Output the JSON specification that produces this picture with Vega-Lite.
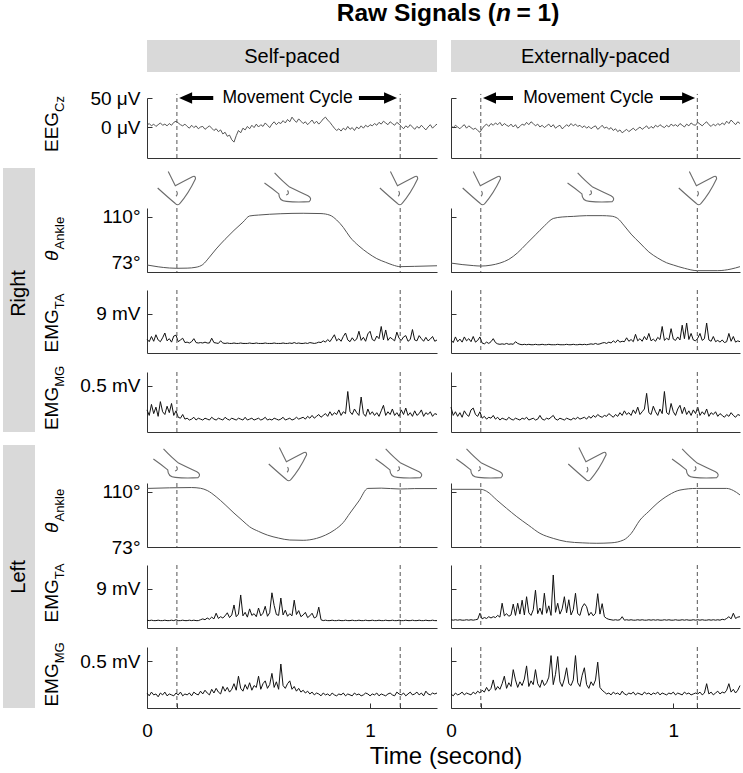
{
"$schema":"https://vega.github.io/schema/vega-lite/v6.json",
"padding":{"left":3,"top":0,"right":0,"bottom":0},
"background":"white",
"columns":4,
"align":"each",
"bounds":"flush",
"spacing":{"row":0,"column":14},
"resolve":{"scale":{"shape":"independent"}},
"config":{"font":"Liberation Sans","view":{"stroke":null},"axis":{"grid":false,"domainColor":"#333","tickColor":"#333","labelFontSize":19,"labelColor":"#000","labelFont":"Liberation Sans","domainWidth":1,"tickWidth":1},"text":{"color":"#000"}},
"datasets":{
"ev":[{"c":"S","t":0.134},{"c":"S","t":1.135},{"c":"E","t":0.134},{"c":"E","t":1.108}],
"arrows":[{"c":"S","dir":"L","tip":0.144,"neck":0.17,"tail":0.297},{"c":"S","dir":"R","tip":1.121,"neck":1.095,"tail":0.95},{"c":"E","dir":"L","tip":0.144,"neck":0.17,"tail":0.279},{"c":"E","dir":"R","tip":1.098,"neck":1.072,"tail":0.94}],
"mc":[{"c":"S","t":0.63,"label":"Movement Cycle"},{"c":"E","t":0.618,"label":"Movement Cycle"}],
"feet":[{"side":"R","c":"S","t":0.13,"pose":"D"},{"side":"R","c":"S","t":0.632,"pose":"P"},{"side":"R","c":"S","t":1.126,"pose":"D"},{"side":"R","c":"E","t":0.135,"pose":"D"},{"side":"R","c":"E","t":0.63,"pose":"P"},{"side":"R","c":"E","t":1.107,"pose":"D"},{"side":"L","c":"S","t":0.134,"pose":"P"},{"side":"L","c":"S","t":0.628,"pose":"D"},{"side":"L","c":"S","t":1.13,"pose":"P"},{"side":"L","c":"E","t":0.13,"pose":"P"},{"side":"L","c":"E","t":0.61,"pose":"D"},{"side":"L","c":"E","t":1.1,"pose":"P"}],
"ang":[
{"s":"RS","t":0,"v":77.7},{"s":"RS","t":0.05,"v":76.5},{"s":"RS","t":0.1,"v":75.7},{"s":"RS","t":0.134,"v":75.5},{"s":"RS","t":0.18,"v":75.6},{"s":"RS","t":0.22,"v":76.2},{"s":"RS","t":0.25,"v":78},{"s":"RS","t":0.28,"v":83},{"s":"RS","t":0.31,"v":88.5},{"s":"RS","t":0.35,"v":95},{"s":"RS","t":0.39,"v":101},{"s":"RS","t":0.43,"v":106.5},{"s":"RS","t":0.46,"v":110.7},{"s":"RS","t":0.5,"v":111.3},{"s":"RS","t":0.6,"v":112.2},{"s":"RS","t":0.7,"v":112.5},{"s":"RS","t":0.78,"v":112.3},{"s":"RS","t":0.82,"v":111.2},{"s":"RS","t":0.85,"v":108},{"s":"RS","t":0.88,"v":103},{"s":"RS","t":0.91,"v":96.5},{"s":"RS","t":0.95,"v":90.5},{"s":"RS","t":0.99,"v":85.8},{"s":"RS","t":1.03,"v":82},{"s":"RS","t":1.07,"v":79.5},{"s":"RS","t":1.1,"v":77.8},{"s":"RS","t":1.135,"v":76.6},{"s":"RS","t":1.2,"v":76.8},{"s":"RS","t":1.3,"v":77.2},
{"s":"RE","t":0,"v":79},{"s":"RE","t":0.05,"v":78},{"s":"RE","t":0.1,"v":77.3},{"s":"RE","t":0.134,"v":77},{"s":"RE","t":0.18,"v":77.6},{"s":"RE","t":0.22,"v":79},{"s":"RE","t":0.26,"v":81.5},{"s":"RE","t":0.3,"v":86},{"s":"RE","t":0.34,"v":92},{"s":"RE","t":0.38,"v":98},{"s":"RE","t":0.42,"v":104},{"s":"RE","t":0.46,"v":109},{"s":"RE","t":0.5,"v":110},{"s":"RE","t":0.55,"v":110.4},{"s":"RE","t":0.61,"v":110.9},{"s":"RE","t":0.68,"v":110.9},{"s":"RE","t":0.72,"v":110.6},{"s":"RE","t":0.75,"v":109},{"s":"RE","t":0.78,"v":104},{"s":"RE","t":0.81,"v":98.5},{"s":"RE","t":0.85,"v":92.5},{"s":"RE","t":0.89,"v":86.5},{"s":"RE","t":0.93,"v":82.4},{"s":"RE","t":0.97,"v":79.2},{"s":"RE","t":1.0,"v":77.7},{"s":"RE","t":1.05,"v":75.5},{"s":"RE","t":1.108,"v":73.9},{"s":"RE","t":1.2,"v":73.9},{"s":"RE","t":1.26,"v":75},{"s":"RE","t":1.3,"v":76.6},
{"s":"LS","t":0,"v":112.4},{"s":"LS","t":0.1,"v":112.8},{"s":"LS","t":0.2,"v":113},{"s":"LS","t":0.24,"v":112.5},{"s":"LS","t":0.27,"v":111},{"s":"LS","t":0.31,"v":106.8},{"s":"LS","t":0.35,"v":101.5},{"s":"LS","t":0.39,"v":95.8},{"s":"LS","t":0.43,"v":90.5},{"s":"LS","t":0.46,"v":86.6},{"s":"LS","t":0.5,"v":83.5},{"s":"LS","t":0.54,"v":81},{"s":"LS","t":0.59,"v":79},{"s":"LS","t":0.64,"v":77.7},{"s":"LS","t":0.7,"v":77.5},{"s":"LS","t":0.76,"v":78.8},{"s":"LS","t":0.8,"v":81},{"s":"LS","t":0.84,"v":84.4},{"s":"LS","t":0.88,"v":89.5},{"s":"LS","t":0.91,"v":95.8},{"s":"LS","t":0.95,"v":104},{"s":"LS","t":0.99,"v":112.4},{"s":"LS","t":1.05,"v":112.6},{"s":"LS","t":1.135,"v":112},{"s":"LS","t":1.2,"v":112.3},{"s":"LS","t":1.3,"v":112.3},
{"s":"LE","t":0,"v":111.8},{"s":"LE","t":0.134,"v":111.8},{"s":"LE","t":0.16,"v":110.5},{"s":"LE","t":0.206,"v":104.6},{"s":"LE","t":0.25,"v":99},{"s":"LE","t":0.296,"v":93.4},{"s":"LE","t":0.35,"v":87.5},{"s":"LE","t":0.4,"v":82.2},{"s":"LE","t":0.46,"v":78.8},{"s":"LE","t":0.52,"v":76.6},{"s":"LE","t":0.59,"v":75.8},{"s":"LE","t":0.656,"v":75.5},{"s":"LE","t":0.72,"v":75.8},{"s":"LE","t":0.776,"v":77.7},{"s":"LE","t":0.81,"v":82},{"s":"LE","t":0.85,"v":91.1},{"s":"LE","t":0.89,"v":97},{"s":"LE","t":0.927,"v":102.3},{"s":"LE","t":0.98,"v":108},{"s":"LE","t":1.03,"v":111.3},{"s":"LE","t":1.104,"v":112.4},{"s":"LE","t":1.24,"v":112.4},{"s":"LE","t":1.27,"v":111},{"s":"LE","t":1.3,"v":108}
],
"sig":[
{"t":0,"eegS":3,"eegE":2,"taRS":3.2,"mgRS":0.24,"taRE":3.0,"mgRE":0.27,"taLS":1.8,"mgLS":0.16,"taLE":1.9,"mgLE":0.15},
{"t":0.01,"eegS":6,"eegE":-1,"taRS":2.6,"mgRS":0.18,"taRE":2.4,"mgRE":0.18,"taLS":1.7,"mgLS":0.13,"taLE":1.8,"mgLE":0.13},
{"t":0.02,"eegS":2,"eegE":3,"taRS":3.8,"mgRS":0.30,"taRE":3.7,"mgRE":0.22,"taLS":1.8,"mgLS":0.17,"taLE":1.9,"mgLE":0.16},
{"t":0.03,"eegS":5,"eegE":0,"taRS":2.7,"mgRS":0.20,"taRE":2.6,"mgRE":0.17,"taLS":1.7,"mgLS":0.14,"taLE":1.8,"mgLE":0.14},
{"t":0.04,"eegS":1,"eegE":-3,"taRS":4.2,"mgRS":0.27,"taRE":3.2,"mgRE":0.21,"taLS":1.7,"mgLS":0.15,"taLE":1.9,"mgLE":0.15},
{"t":0.05,"eegS":4,"eegE":1,"taRS":3.0,"mgRS":0.17,"taRE":2.5,"mgRE":0.16,"taLS":1.8,"mgLS":0.12,"taLE":1.8,"mgLE":0.17},
{"t":0.06,"eegS":7,"eegE":4,"taRS":2.6,"mgRS":0.33,"taRE":3.7,"mgRE":0.23,"taLS":1.7,"mgLS":0.16,"taLE":1.8,"mgLE":0.14},
{"t":0.07,"eegS":3,"eegE":-2,"taRS":3.5,"mgRS":0.22,"taRE":2.8,"mgRE":0.19,"taLS":1.7,"mgLS":0.14,"taLE":1.9,"mgLE":0.16},
{"t":0.08,"eegS":5,"eegE":2,"taRS":4.6,"mgRS":0.19,"taRE":3.3,"mgRE":0.17,"taLS":1.8,"mgLS":0.17,"taLE":1.8,"mgLE":0.15},
{"t":0.09,"eegS":2,"eegE":-1,"taRS":2.8,"mgRS":0.28,"taRE":2.6,"mgRE":0.24,"taLS":1.7,"mgLS":0.13,"taLE":1.9,"mgLE":0.14},
{"t":0.1,"eegS":6,"eegE":-4,"taRS":3.3,"mgRS":0.21,"taRE":3.8,"mgRE":0.26,"taLS":1.7,"mgLS":0.15,"taLE":1.8,"mgLE":0.17},
{"t":0.11,"eegS":3,"eegE":-2,"taRS":2.5,"mgRS":0.31,"taRE":2.5,"mgRE":0.19,"taLS":1.8,"mgLS":0.14,"taLE":1.9,"mgLE":0.15},
{"t":0.12,"eegS":8,"eegE":-6,"taRS":3.9,"mgRS":0.18,"taRE":2.9,"mgRE":0.17,"taLS":1.7,"mgLS":0.13,"taLE":2.0,"mgLE":0.18},
{"t":0.13,"eegS":10,"eegE":-9,"taRS":4.1,"mgRS":0.23,"taRE":3.7,"mgRE":0.22,"taLS":1.9,"mgLS":0.16,"taLE":3.4,"mgLE":0.16},
{"t":0.14,"eegS":7,"eegE":-3,"taRS":2.6,"mgRS":0.16,"taRE":2.3,"mgRE":0.15,"taLS":1.7,"mgLS":0.14,"taLE":2.1,"mgLE":0.19},
{"t":0.15,"eegS":4,"eegE":2,"taRS":3.0,"mgRS":0.15,"taRE":2.1,"mgRE":0.17,"taLS":1.7,"mgLS":0.17,"taLE":2.4,"mgLE":0.17},
{"t":0.16,"eegS":2,"eegE":5,"taRS":3.4,"mgRS":0.19,"taRE":2.5,"mgRE":0.14,"taLS":1.8,"mgLS":0.13,"taLE":2.2,"mgLE":0.22},
{"t":0.17,"eegS":5,"eegE":1,"taRS":2.4,"mgRS":0.14,"taRE":2.2,"mgRE":0.16,"taLS":1.7,"mgLS":0.15,"taLE":2.6,"mgLE":0.18},
{"t":0.18,"eegS":1,"eegE":6,"taRS":2.5,"mgRS":0.15,"taRE":2.6,"mgRE":0.15,"taLS":1.7,"mgLS":0.14,"taLE":2.3,"mgLE":0.21},
{"t":0.19,"eegS":-2,"eegE":3,"taRS":2.3,"mgRS":0.13,"taRE":3.3,"mgRE":0.18,"taLS":1.8,"mgLS":0.16,"taLE":2.6,"mgLE":0.30},
{"t":0.2,"eegS":3,"eegE":7,"taRS":2.6,"mgRS":0.14,"taRE":2.4,"mgRE":0.14,"taLS":1.7,"mgLS":0.13,"taLE":2.4,"mgLE":0.19},
{"t":0.21,"eegS":-1,"eegE":4,"taRS":3.3,"mgRS":0.16,"taRE":2.1,"mgRE":0.16,"taLS":1.8,"mgLS":0.17,"taLE":2.9,"mgLE":0.23},
{"t":0.22,"eegS":2,"eegE":8,"taRS":2.4,"mgRS":0.13,"taRE":2.0,"mgRE":0.13,"taLS":1.7,"mgLS":0.15,"taLE":2.5,"mgLE":0.20},
{"t":0.23,"eegS":-3,"eegE":2,"taRS":2.3,"mgRS":0.15,"taRE":2.1,"mgRE":0.15,"taLS":1.7,"mgLS":0.14,"taLE":5.7,"mgLE":0.26},
{"t":0.24,"eegS":0,"eegE":6,"taRS":2.4,"mgRS":0.14,"taRE":2.0,"mgRE":0.14,"taLS":1.9,"mgLS":0.18,"taLE":2.8,"mgLE":0.34},
{"t":0.25,"eegS":1,"eegE":3,"taRS":2.3,"mgRS":0.13,"taRE":2.2,"mgRE":0.13,"taLS":2.1,"mgLS":0.15,"taLE":3.3,"mgLE":0.21},
{"t":0.26,"eegS":-4,"eegE":1,"taRS":2.5,"mgRS":0.15,"taRE":2.0,"mgRE":0.16,"taLS":1.9,"mgLS":0.19,"taLE":2.7,"mgLE":0.27},
{"t":0.27,"eegS":-1,"eegE":5,"taRS":2.3,"mgRS":0.14,"taRE":2.1,"mgRE":0.14,"taLS":2.3,"mgLS":0.16,"taLE":3.0,"mgLE":0.23},
{"t":0.28,"eegS":2,"eegE":0,"taRS":2.3,"mgRS":0.13,"taRE":2.0,"mgRE":0.13,"taLS":2.0,"mgLS":0.14,"taLE":5.5,"mgLE":0.41},
{"t":0.29,"eegS":-2,"eegE":4,"taRS":3.4,"mgRS":0.16,"taRE":2.6,"mgRE":0.15,"taLS":2.5,"mgLS":0.20,"taLE":2.9,"mgLE":0.30},
{"t":0.3,"eegS":-6,"eegE":-2,"taRS":2.4,"mgRS":0.14,"taRE":2.2,"mgRE":0.14,"taLS":2.1,"mgLS":0.16,"taLE":5.7,"mgLE":0.22},
{"t":0.31,"eegS":-3,"eegE":1,"taRS":2.3,"mgRS":0.13,"taRE":2.0,"mgRE":0.13,"taLS":3.4,"mgLS":0.21,"taLE":3.2,"mgLE":0.28},
{"t":0.32,"eegS":-8,"eegE":5,"taRS":2.2,"mgRS":0.15,"taRE":1.9,"mgRE":0.15,"taLS":2.2,"mgLS":0.17,"taLE":6.4,"mgLE":0.24},
{"t":0.33,"eegS":-5,"eegE":3,"taRS":2.8,"mgRS":0.14,"taRE":2.0,"mgRE":0.14,"taLS":2.6,"mgLS":0.15,"taLE":3.0,"mgLE":0.31},
{"t":0.34,"eegS":-12,"eegE":8,"taRS":2.3,"mgRS":0.13,"taRE":1.9,"mgRE":0.16,"taLS":2.3,"mgLS":0.23,"taLE":7.2,"mgLE":0.45},
{"t":0.35,"eegS":-9,"eegE":4,"taRS":2.2,"mgRS":0.16,"taRE":2.0,"mgRE":0.13,"taLS":2.8,"mgLS":0.18,"taLE":3.5,"mgLE":0.23},
{"t":0.36,"eegS":-16,"eegE":9,"taRS":2.3,"mgRS":0.14,"taRE":1.9,"mgRE":0.14,"taLS":3.5,"mgLS":0.22,"taLE":2.9,"mgLE":0.29},
{"t":0.37,"eegS":-14,"eegE":6,"taRS":2.2,"mgRS":0.13,"taRE":1.9,"mgRE":0.15,"taLS":2.4,"mgLS":0.17,"taLE":4.2,"mgLE":0.25},
{"t":0.38,"eegS":-22,"eegE":2,"taRS":2.2,"mgRS":0.15,"taRE":2.0,"mgRE":0.13,"taLS":3.0,"mgLS":0.20,"taLE":8.7,"mgLE":0.41},
{"t":0.39,"eegS":-26,"eegE":5,"taRS":2.3,"mgRS":0.14,"taRE":1.9,"mgRE":0.14,"taLS":5.3,"mgLS":0.26,"taLE":3.3,"mgLE":0.26},
{"t":0.4,"eegS":-15,"eegE":0,"taRS":2.2,"mgRS":0.13,"taRE":1.9,"mgRE":0.18,"taLS":2.6,"mgLS":0.19,"taLE":4.6,"mgLE":0.22},
{"t":0.41,"eegS":-6,"eegE":3,"taRS":2.2,"mgRS":0.15,"taRE":2.0,"mgRE":0.14,"taLS":3.2,"mgLS":0.34,"taLE":3.1,"mgLE":0.30},
{"t":0.42,"eegS":-10,"eegE":-1,"taRS":2.3,"mgRS":0.14,"taRE":1.9,"mgRE":0.13,"taLS":7.6,"mgLS":0.21,"taLE":8.0,"mgLE":0.24},
{"t":0.43,"eegS":-2,"eegE":2,"taRS":2.2,"mgRS":0.13,"taRE":1.9,"mgRE":0.15,"taLS":2.8,"mgLS":0.18,"taLE":3.4,"mgLE":0.27},
{"t":0.44,"eegS":-5,"eegE":5,"taRS":2.2,"mgRS":0.16,"taRE":2.0,"mgRE":0.14,"taLS":3.6,"mgLS":0.25,"taLE":5.1,"mgLE":0.33},
{"t":0.45,"eegS":1,"eegE":0,"taRS":2.2,"mgRS":0.13,"taRE":1.9,"mgRE":0.16,"taLS":2.5,"mgLS":0.20,"taLE":2.9,"mgLE":0.56},
{"t":0.46,"eegS":-3,"eegE":4,"taRS":2.3,"mgRS":0.14,"taRE":1.9,"mgRE":0.18,"taLS":4.4,"mgLS":0.27,"taLE":12.2,"mgLE":0.25},
{"t":0.47,"eegS":3,"eegE":-2,"taRS":2.2,"mgRS":0.15,"taRE":1.9,"mgRE":0.14,"taLS":2.9,"mgLS":0.19,"taLE":3.6,"mgLE":0.36},
{"t":0.48,"eegS":-1,"eegE":1,"taRS":2.2,"mgRS":0.13,"taRE":2.0,"mgRE":0.13,"taLS":3.3,"mgLS":0.24,"taLE":5.7,"mgLE":0.55},
{"t":0.49,"eegS":5,"eegE":3,"taRS":2.3,"mgRS":0.14,"taRE":1.9,"mgRE":0.15,"taLS":2.6,"mgLS":0.22,"taLE":3.2,"mgLE":0.28},
{"t":0.5,"eegS":0,"eegE":-3,"taRS":2.2,"mgRS":0.15,"taRE":1.9,"mgRE":0.14,"taLS":4.6,"mgLS":0.34,"taLE":4.4,"mgLE":0.23},
{"t":0.51,"eegS":4,"eegE":0,"taRS":2.2,"mgRS":0.13,"taRE":1.9,"mgRE":0.13,"taLS":2.8,"mgLS":0.20,"taLE":7.2,"mgLE":0.31},
{"t":0.52,"eegS":1,"eegE":4,"taRS":2.2,"mgRS":0.14,"taRE":2.0,"mgRE":0.15,"taLS":3.4,"mgLS":0.26,"taLE":3.5,"mgLE":0.43},
{"t":0.53,"eegS":7,"eegE":1,"taRS":2.3,"mgRS":0.16,"taRE":1.9,"mgRE":0.14,"taLS":5.0,"mgLS":0.29,"taLE":6.5,"mgLE":0.26},
{"t":0.54,"eegS":3,"eegE":6,"taRS":2.2,"mgRS":0.13,"taRE":1.9,"mgRE":0.13,"taLS":2.7,"mgLS":0.21,"taLE":3.0,"mgLE":0.24},
{"t":0.55,"eegS":-1,"eegE":2,"taRS":2.2,"mgRS":0.14,"taRE":2.0,"mgRE":0.15,"taLS":3.5,"mgLS":0.25,"taLE":4.2,"mgLE":0.30},
{"t":0.56,"eegS":5,"eegE":5,"taRS":2.2,"mgRS":0.13,"taRE":1.9,"mgRE":0.14,"taLS":8.1,"mgLS":0.37,"taLE":8.0,"mgLE":0.56},
{"t":0.57,"eegS":9,"eegE":1,"taRS":2.3,"mgRS":0.15,"taRE":1.9,"mgRE":0.16,"taLS":5.2,"mgLS":0.22,"taLE":3.3,"mgLE":0.27},
{"t":0.58,"eegS":4,"eegE":3,"taRS":2.2,"mgRS":0.14,"taRE":2.0,"mgRE":0.14,"taLS":3.1,"mgLS":0.28,"taLE":2.9,"mgLE":0.23},
{"t":0.59,"eegS":8,"eegE":-1,"taRS":2.2,"mgRS":0.13,"taRE":1.9,"mgRE":0.15,"taLS":2.9,"mgLS":0.20,"taLE":4.8,"mgLE":0.35},
{"t":0.6,"eegS":6,"eegE":2,"taRS":2.2,"mgRS":0.14,"taRE":2.0,"mgRE":0.16,"taLS":6.9,"mgLS":0.47,"taLE":5.6,"mgLE":0.43},
{"t":0.61,"eegS":11,"eegE":-2,"taRS":2.3,"mgRS":0.16,"taRE":1.9,"mgRE":0.14,"taLS":3.0,"mgLS":0.24,"taLE":4.9,"mgLE":0.25},
{"t":0.62,"eegS":7,"eegE":1,"taRS":2.2,"mgRS":0.13,"taRE":2.0,"mgRE":0.17,"taLS":4.1,"mgLS":0.21,"taLE":2.9,"mgLE":0.21},
{"t":0.63,"eegS":13,"eegE":-3,"taRS":2.2,"mgRS":0.14,"taRE":2.1,"mgRE":0.15,"taLS":2.7,"mgLS":0.26,"taLE":3.6,"mgLE":0.28},
{"t":0.64,"eegS":9,"eegE":0,"taRS":2.3,"mgRS":0.15,"taRE":2.0,"mgRE":0.18,"taLS":3.3,"mgLS":0.29,"taLE":2.8,"mgLE":0.24},
{"t":0.65,"eegS":17,"eegE":2,"taRS":2.2,"mgRS":0.13,"taRE":2.2,"mgRE":0.16,"taLS":2.8,"mgLS":0.20,"taLE":3.4,"mgLE":0.30},
{"t":0.66,"eegS":12,"eegE":-4,"taRS":2.4,"mgRS":0.14,"taRE":2.0,"mgRE":0.19,"taLS":6.4,"mgLS":0.23,"taLE":7.9,"mgLE":0.49},
{"t":0.67,"eegS":8,"eegE":-1,"taRS":2.2,"mgRS":0.16,"taRE":2.1,"mgRE":0.17,"taLS":3.1,"mgLS":0.18,"taLE":3.2,"mgLE":0.22},
{"t":0.68,"eegS":14,"eegE":3,"taRS":2.3,"mgRS":0.14,"taRE":2.3,"mgRE":0.16,"taLS":4.0,"mgLS":0.21,"taLE":5.6,"mgLE":0.19},
{"t":0.69,"eegS":10,"eegE":-2,"taRS":2.2,"mgRS":0.15,"taRE":2.4,"mgRE":0.18,"taLS":2.6,"mgLS":0.17,"taLE":2.6,"mgLE":0.17},
{"t":0.7,"eegS":6,"eegE":0,"taRS":2.2,"mgRS":0.16,"taRE":2.2,"mgRE":0.17,"taLS":3.0,"mgLS":0.19,"taLE":2.2,"mgLE":0.15},
{"t":0.71,"eegS":9,"eegE":-4,"taRS":2.3,"mgRS":0.14,"taRE":2.5,"mgRE":0.20,"taLS":3.6,"mgLS":0.16,"taLE":2.0,"mgLE":0.16},
{"t":0.72,"eegS":4,"eegE":-1,"taRS":2.2,"mgRS":0.17,"taRE":2.3,"mgRE":0.18,"taLS":2.4,"mgLS":0.18,"taLE":1.9,"mgLE":0.14},
{"t":0.73,"eegS":8,"eegE":-6,"taRS":2.4,"mgRS":0.15,"taRE":2.8,"mgRE":0.16,"taLS":2.8,"mgLS":0.15,"taLE":1.8,"mgLE":0.17},
{"t":0.74,"eegS":12,"eegE":-3,"taRS":2.3,"mgRS":0.18,"taRE":2.4,"mgRE":0.19,"taLS":3.4,"mgLS":0.17,"taLE":1.9,"mgLE":0.15},
{"t":0.75,"eegS":6,"eegE":-8,"taRS":2.2,"mgRS":0.15,"taRE":3.0,"mgRE":0.17,"taLS":2.3,"mgLS":0.14,"taLE":1.8,"mgLE":0.16},
{"t":0.76,"eegS":10,"eegE":-5,"taRS":2.3,"mgRS":0.17,"taRE":2.5,"mgRE":0.21,"taLS":2.6,"mgLS":0.16,"taLE":1.9,"mgLE":0.14},
{"t":0.77,"eegS":5,"eegE":-10,"taRS":2.5,"mgRS":0.19,"taRE":2.7,"mgRE":0.18,"taLS":4.8,"mgLS":0.15,"taLE":2.6,"mgLE":0.18},
{"t":0.78,"eegS":9,"eegE":-7,"taRS":2.4,"mgRS":0.16,"taRE":2.6,"mgRE":0.23,"taLS":1.9,"mgLS":0.13,"taLE":1.8,"mgLE":0.15},
{"t":0.79,"eegS":14,"eegE":-4,"taRS":2.8,"mgRS":0.18,"taRE":3.5,"mgRE":0.19,"taLS":1.7,"mgLS":0.16,"taLE":1.9,"mgLE":0.14},
{"t":0.8,"eegS":17,"eegE":-8,"taRS":2.5,"mgRS":0.20,"taRE":2.7,"mgRE":0.21,"taLS":1.8,"mgLS":0.14,"taLE":1.8,"mgLE":0.16},
{"t":0.81,"eegS":12,"eegE":-5,"taRS":3.1,"mgRS":0.17,"taRE":3.1,"mgRE":0.18,"taLS":1.7,"mgLS":0.15,"taLE":1.9,"mgLE":0.15},
{"t":0.82,"eegS":8,"eegE":-2,"taRS":2.6,"mgRS":0.22,"taRE":2.6,"mgRE":0.24,"taLS":1.7,"mgLS":0.13,"taLE":1.8,"mgLE":0.17},
{"t":0.83,"eegS":3,"eegE":-6,"taRS":3.4,"mgRS":0.18,"taRE":4.3,"mgRE":0.20,"taLS":1.8,"mgLS":0.16,"taLE":1.8,"mgLE":0.14},
{"t":0.84,"eegS":-2,"eegE":-3,"taRS":4.2,"mgRS":0.21,"taRE":2.8,"mgRE":0.27,"taLS":1.7,"mgLS":0.14,"taLE":1.9,"mgLE":0.16},
{"t":0.85,"eegS":-6,"eegE":0,"taRS":2.8,"mgRS":0.19,"taRE":3.3,"mgRE":0.19,"taLS":1.7,"mgLS":0.13,"taLE":1.8,"mgLE":0.15},
{"t":0.86,"eegS":-3,"eegE":-4,"taRS":3.3,"mgRS":0.24,"taRE":2.7,"mgRE":0.22,"taLS":1.8,"mgLS":0.15,"taLE":1.9,"mgLE":0.14},
{"t":0.87,"eegS":-7,"eegE":-1,"taRS":2.7,"mgRS":0.18,"taRE":3.8,"mgRE":0.25,"taLS":1.7,"mgLS":0.14,"taLE":1.8,"mgLE":0.17},
{"t":0.88,"eegS":-2,"eegE":2,"taRS":3.8,"mgRS":0.22,"taRE":3.0,"mgRE":0.42,"taLS":1.7,"mgLS":0.16,"taLE":1.8,"mgLE":0.15},
{"t":0.89,"eegS":-5,"eegE":-3,"taRS":4.6,"mgRS":0.20,"taRE":4.5,"mgRE":0.21,"taLS":1.8,"mgLS":0.13,"taLE":1.9,"mgLE":0.16},
{"t":0.9,"eegS":1,"eegE":1,"taRS":3.0,"mgRS":0.44,"taRE":2.8,"mgRE":0.19,"taLS":1.7,"mgLS":0.15,"taLE":1.8,"mgLE":0.14},
{"t":0.91,"eegS":-4,"eegE":-2,"taRS":2.6,"mgRS":0.22,"taRE":3.2,"mgRE":0.28,"taLS":1.7,"mgLS":0.14,"taLE":1.9,"mgLE":0.16},
{"t":0.92,"eegS":-1,"eegE":3,"taRS":3.5,"mgRS":0.19,"taRE":2.7,"mgRE":0.22,"taLS":1.8,"mgLS":0.13,"taLE":1.8,"mgLE":0.15},
{"t":0.93,"eegS":-6,"eegE":0,"taRS":2.8,"mgRS":0.25,"taRE":3.6,"mgRE":0.18,"taLS":1.7,"mgLS":0.16,"taLE":1.9,"mgLE":0.17},
{"t":0.94,"eegS":0,"eegE":4,"taRS":3.2,"mgRS":0.21,"taRE":3.1,"mgRE":0.25,"taLS":1.7,"mgLS":0.14,"taLE":1.8,"mgLE":0.14},
{"t":0.95,"eegS":-3,"eegE":1,"taRS":5.0,"mgRS":0.18,"taRE":6.1,"mgRE":0.20,"taLS":1.8,"mgLS":0.15,"taLE":1.8,"mgLE":0.16},
{"t":0.96,"eegS":2,"eegE":-1,"taRS":2.9,"mgRS":0.38,"taRE":2.9,"mgRE":0.44,"taLS":1.7,"mgLS":0.13,"taLE":1.9,"mgLE":0.15},
{"t":0.97,"eegS":-2,"eegE":3,"taRS":3.6,"mgRS":0.20,"taRE":3.4,"mgRE":0.21,"taLS":1.7,"mgLS":0.14,"taLE":1.8,"mgLE":0.14},
{"t":0.98,"eegS":3,"eegE":0,"taRS":2.7,"mgRS":0.17,"taRE":3.0,"mgRE":0.19,"taLS":1.8,"mgLS":0.16,"taLE":1.9,"mgLE":0.16},
{"t":0.99,"eegS":0,"eegE":5,"taRS":4.4,"mgRS":0.25,"taRE":5.6,"mgRE":0.31,"taLS":1.7,"mgLS":0.15,"taLE":1.8,"mgLE":0.15},
{"t":1.0,"eegS":4,"eegE":2,"taRS":5.0,"mgRS":0.19,"taRE":3.2,"mgRE":0.22,"taLS":1.7,"mgLS":0.13,"taLE":1.8,"mgLE":0.17},
{"t":1.01,"eegS":2,"eegE":4,"taRS":3.1,"mgRS":0.22,"taRE":2.9,"mgRE":0.18,"taLS":1.8,"mgLS":0.15,"taLE":1.9,"mgLE":0.14},
{"t":1.02,"eegS":6,"eegE":1,"taRS":2.8,"mgRS":0.18,"taRE":3.7,"mgRE":0.25,"taLS":1.7,"mgLS":0.14,"taLE":1.8,"mgLE":0.16},
{"t":1.03,"eegS":3,"eegE":6,"taRS":3.9,"mgRS":0.21,"taRE":3.0,"mgRE":0.29,"taLS":1.7,"mgLS":0.16,"taLE":1.8,"mgLE":0.15},
{"t":1.04,"eegS":8,"eegE":3,"taRS":3.3,"mgRS":0.17,"taRE":6.4,"mgRE":0.20,"taLS":1.8,"mgLS":0.13,"taLE":1.9,"mgLE":0.14},
{"t":1.05,"eegS":5,"eegE":0,"taRS":6.1,"mgRS":0.23,"taRE":3.3,"mgRE":0.27,"taLS":1.7,"mgLS":0.15,"taLE":1.8,"mgLE":0.17},
{"t":1.06,"eegS":10,"eegE":5,"taRS":3.0,"mgRS":0.29,"taRE":6.9,"mgRE":0.19,"taLS":1.7,"mgLS":0.14,"taLE":1.9,"mgLE":0.15},
{"t":1.07,"eegS":7,"eegE":2,"taRS":5.3,"mgRS":0.18,"taRE":3.1,"mgRE":0.23,"taLS":1.8,"mgLS":0.13,"taLE":1.8,"mgLE":0.16},
{"t":1.08,"eegS":4,"eegE":7,"taRS":2.9,"mgRS":0.22,"taRE":4.5,"mgRE":0.18,"taLS":1.7,"mgLS":0.15,"taLE":1.8,"mgLE":0.14},
{"t":1.09,"eegS":9,"eegE":4,"taRS":3.6,"mgRS":0.19,"taRE":3.0,"mgRE":0.24,"taLS":1.7,"mgLS":0.16,"taLE":1.9,"mgLE":0.15},
{"t":1.1,"eegS":6,"eegE":3,"taRS":3.2,"mgRS":0.25,"taRE":2.8,"mgRE":0.20,"taLS":1.8,"mgLS":0.14,"taLE":1.8,"mgLE":0.16},
{"t":1.11,"eegS":3,"eegE":8,"taRS":2.8,"mgRS":0.18,"taRE":3.4,"mgRE":0.27,"taLS":1.7,"mgLS":0.13,"taLE":1.9,"mgLE":0.15},
{"t":1.12,"eegS":8,"eegE":5,"taRS":4.8,"mgRS":0.21,"taRE":4.5,"mgRE":0.18,"taLS":1.7,"mgLS":0.17,"taLE":1.8,"mgLE":0.17},
{"t":1.13,"eegS":5,"eegE":2,"taRS":3.4,"mgRS":0.17,"taRE":2.9,"mgRE":0.22,"taLS":1.8,"mgLS":0.15,"taLE":1.9,"mgLE":0.14},
{"t":1.14,"eegS":1,"eegE":6,"taRS":2.9,"mgRS":0.24,"taRE":3.3,"mgRE":0.19,"taLS":1.7,"mgLS":0.14,"taLE":1.8,"mgLE":0.16},
{"t":1.15,"eegS":-3,"eegE":9,"taRS":3.7,"mgRS":0.19,"taRE":6.9,"mgRE":0.25,"taLS":1.7,"mgLS":0.16,"taLE":1.8,"mgLE":0.26},
{"t":1.16,"eegS":2,"eegE":4,"taRS":4.0,"mgRS":0.26,"taRE":3.0,"mgRE":0.17,"taLS":1.8,"mgLS":0.13,"taLE":1.9,"mgLE":0.15},
{"t":1.17,"eegS":-1,"eegE":1,"taRS":2.7,"mgRS":0.18,"taRE":2.7,"mgRE":0.21,"taLS":1.7,"mgLS":0.15,"taLE":1.8,"mgLE":0.17},
{"t":1.18,"eegS":4,"eegE":5,"taRS":3.1,"mgRS":0.21,"taRE":3.8,"mgRE":0.19,"taLS":1.7,"mgLS":0.17,"taLE":1.9,"mgLE":0.14},
{"t":1.19,"eegS":0,"eegE":2,"taRS":5.4,"mgRS":0.17,"taRE":2.6,"mgRE":0.22,"taLS":1.8,"mgLS":0.14,"taLE":1.8,"mgLE":0.16},
{"t":1.2,"eegS":-4,"eegE":6,"taRS":3.0,"mgRS":0.23,"taRE":2.9,"mgRE":0.17,"taLS":1.7,"mgLS":0.15,"taLE":1.9,"mgLE":0.18},
{"t":1.21,"eegS":1,"eegE":3,"taRS":2.8,"mgRS":0.18,"taRE":2.5,"mgRE":0.20,"taLS":1.7,"mgLS":0.17,"taLE":1.8,"mgLE":0.15},
{"t":1.22,"eegS":-2,"eegE":7,"taRS":4.0,"mgRS":0.20,"taRE":3.0,"mgRE":0.18,"taLS":1.8,"mgLS":0.14,"taLE":2.0,"mgLE":0.17},
{"t":1.23,"eegS":3,"eegE":4,"taRS":3.3,"mgRS":0.24,"taRE":2.4,"mgRE":0.16,"taLS":1.7,"mgLS":0.16,"taLE":1.9,"mgLE":0.16},
{"t":1.24,"eegS":-1,"eegE":10,"taRS":2.7,"mgRS":0.17,"taRE":2.6,"mgRE":0.19,"taLS":1.7,"mgLS":0.13,"taLE":2.2,"mgLE":0.19},
{"t":1.25,"eegS":-5,"eegE":6,"taRS":3.6,"mgRS":0.21,"taRE":4.5,"mgRE":0.17,"taLS":1.8,"mgLS":0.18,"taLE":2.6,"mgLE":0.26},
{"t":1.26,"eegS":0,"eegE":12,"taRS":2.8,"mgRS":0.19,"taRE":2.7,"mgRE":0.21,"taLS":1.7,"mgLS":0.15,"taLE":2.1,"mgLE":0.17},
{"t":1.27,"eegS":4,"eegE":8,"taRS":3.2,"mgRS":0.22,"taRE":3.8,"mgRE":0.18,"taLS":1.7,"mgLS":0.14,"taLE":3.4,"mgLE":0.20},
{"t":1.28,"eegS":-2,"eegE":4,"taRS":3.8,"mgRS":0.17,"taRE":2.5,"mgRE":0.16,"taLS":1.8,"mgLS":0.16,"taLE":2.2,"mgLE":0.16},
{"t":1.29,"eegS":2,"eegE":9,"taRS":2.7,"mgRS":0.20,"taRE":2.8,"mgRE":0.19,"taLS":1.7,"mgLS":0.15,"taLE":2.5,"mgLE":0.19},
{"t":1.3,"eegS":5,"eegE":6,"taRS":3.0,"mgRS":0.19,"taRE":2.6,"mgRE":0.18,"taLS":1.7,"mgLS":0.16,"taLE":2.6,"mgLE":0.24}
]
},
"concat":[
{"width":32,"height":40,"data":{"values":[]},"mark":"point"},
{"width":84,"height":1,"data":{"values":[]},"mark":"point"},
{"width":290,"height":1,"data":{"values":[]},"mark":"point"},
{"width":289,"height":40,"data":{"values":[{"a":"Raw Signals (","b":"n","c":"= 1)"}]},"layer":[
 {"mark":{"type":"text","align":"right","baseline":"middle","fontSize":24.5,"fontWeight":"bold","dx":-99.5,"dy":-6},"encoding":{"text":{"field":"a"}}},
 {"mark":{"type":"text","align":"center","baseline":"middle","fontSize":24.5,"fontWeight":"bold","fontStyle":"italic","dx":-92,"dy":-6},"encoding":{"text":{"field":"b"}}},
 {"mark":{"type":"text","align":"left","baseline":"middle","fontSize":24.5,"fontWeight":"bold","dx":-79,"dy":-6},"encoding":{"text":{"field":"c"}}}]},

{"width":32,"height":32,"data":{"values":[]},"mark":"point"},
{"width":1,"height":1,"data":{"values":[]},"mark":"point"},
{"width":290,"height":32,"view":{"fill":"#d9d9d9"},"data":{"values":[{"label":"Self-paced"}]},"mark":{"type":"text","fontSize":20,"baseline":"middle","dy":1},"encoding":{"text":{"field":"label"}}},
{"width":289,"height":32,"view":{"fill":"#d9d9d9"},"data":{"values":[{"label":"Externally-paced"}]},"mark":{"type":"text","fontSize":20,"baseline":"middle","dy":1},"encoding":{"text":{"field":"label"}}},

{"width":32,"height":26,"data":{"values":[]},"mark":"point"},
{"width":1,"height":1,"data":{"values":[]},"mark":"point"},
{"width":1,"height":1,"data":{"values":[]},"mark":"point"},
{"width":1,"height":1,"data":{"values":[]},"mark":"point"},

{"width":32,"height":60,"data":{"values":[]},"mark":"point"},
{"width":84,"height":60,"data":{"values":[{"m":"EEG","s":"Cz"}]},"layer":[
 {"mark":{"type":"text","angle":270,"align":"left","baseline":"middle","fontSize":19,"dx":-24,"dy":-39},"encoding":{"text":{"field":"m"}}},
 {"mark":{"type":"text","angle":270,"align":"left","baseline":"middle","fontSize":13,"dx":16,"dy":-31},"encoding":{"text":{"field":"s"}}}]},
{"width":290,"height":60,"layer":[
 {"data":{"name":"sig"},"mark":{"type":"line","color":"#444","strokeWidth":0.9},"encoding":{"x":{"field":"t","type":"quantitative","scale":{"domain":[0,1.3],"nice":false},"axis":{"labels":false,"ticks":false,"title":null}},"y":{"field":"eegS","type":"quantitative","scale":{"domain":[-53.4,50],"nice":false,"zero":false},"axis":{"values":[0,50],"labelExpr":"datum.value + ' μV'","title":null,"tickSize":-5,"labelPadding":12}}}},
 {"data":{"name":"ev"},"transform":[{"filter":"datum.c == 'S'"}],"mark":{"type":"rule","color":"#555","strokeDash":[4,3],"strokeWidth":1},"encoding":{"x":{"field":"t","type":"quantitative"},"y":{"datum":-53.4},"y2":{"datum":57}}},
 {"data":{"name":"arrows"},"transform":[{"filter":"datum.c == 'S'"}],"mark":{"type":"rule","color":"#000","strokeWidth":4},"encoding":{"x":{"field":"neck","type":"quantitative"},"x2":{"field":"tail"},"y":{"datum":50}}},
 {"data":{"name":"arrows"},"transform":[{"filter":"datum.c == 'S'"}],"mark":{"type":"point","filled":true,"color":"#000","opacity":1,"size":169,"strokeWidth":0},"encoding":{"x":{"field":"tip","type":"quantitative"},"y":{"datum":50},"shape":{"field":"dir","type":"nominal","scale":{"domain":["L","R"],"range":["M0,0 L2,-0.9 L2,0.9 Z","M0,0 L-2,-0.9 L-2,0.9 Z"]},"legend":null}}},
 {"data":{"name":"mc"},"transform":[{"filter":"datum.c == 'S'"}],"mark":{"type":"text","fontSize":17.5,"baseline":"middle"},"encoding":{"x":{"field":"t","type":"quantitative"},"y":{"datum":50},"text":{"field":"label"}}}]},
{"width":289,"height":60,"layer":[
 {"data":{"name":"sig"},"mark":{"type":"line","color":"#444","strokeWidth":0.9},"encoding":{"x":{"field":"t","type":"quantitative","scale":{"domain":[0,1.3],"nice":false},"axis":{"labels":false,"ticks":false,"title":null}},"y":{"field":"eegE","type":"quantitative","scale":{"domain":[-53.4,50],"nice":false,"zero":false},"axis":{"values":[0,50],"labels":false,"title":null,"tickSize":-5}}}},
 {"data":{"name":"ev"},"transform":[{"filter":"datum.c == 'E'"}],"mark":{"type":"rule","color":"#555","strokeDash":[4,3],"strokeWidth":1},"encoding":{"x":{"field":"t","type":"quantitative"},"y":{"datum":-53.4},"y2":{"datum":57}}},
 {"data":{"name":"arrows"},"transform":[{"filter":"datum.c == 'E'"}],"mark":{"type":"rule","color":"#000","strokeWidth":4},"encoding":{"x":{"field":"neck","type":"quantitative"},"x2":{"field":"tail"},"y":{"datum":50}}},
 {"data":{"name":"arrows"},"transform":[{"filter":"datum.c == 'E'"}],"mark":{"type":"point","filled":true,"color":"#000","opacity":1,"size":169,"strokeWidth":0},"encoding":{"x":{"field":"tip","type":"quantitative"},"y":{"datum":50},"shape":{"field":"dir","type":"nominal","scale":{"domain":["L","R"],"range":["M0,0 L2,-0.9 L2,0.9 Z","M0,0 L-2,-0.9 L-2,0.9 Z"]},"legend":null}}},
 {"data":{"name":"mc"},"transform":[{"filter":"datum.c == 'E'"}],"mark":{"type":"text","fontSize":17.5,"baseline":"middle"},"encoding":{"x":{"field":"t","type":"quantitative"},"y":{"datum":50},"text":{"field":"label"}}}]},

{"width":32,"height":10,"data":{"values":[]},"mark":"point"},
{"width":1,"height":1,"data":{"values":[]},"mark":"point"},
{"width":1,"height":1,"data":{"values":[]},"mark":"point"},
{"width":1,"height":1,"data":{"values":[]},"mark":"point"},

{"width":32,"height":40,"view":{"fill":"#d9d9d9"},"data":{"values":[]},"mark":"point"},
{"width":1,"height":1,"data":{"values":[]},"mark":"point"},
{"width":290,"height":40,"data":{"name":"feet"},"transform":[{"filter":"datum.side == 'R' && datum.c == 'S'"}],"mark":{"type":"point","filled":false,"stroke":"#6b6b6b","strokeWidth":1.1,"opacity":1,"size":2209},"encoding":{"x":{"field":"t","type":"quantitative","scale":{"domain":[0,1.3],"nice":false},"axis":null},"shape":{"field":"pose","type":"nominal","scale":{"domain":["D","P"],"range":["M-0.78,0 Q-0.35,0.39 -0.04,0.65 Q0.09,0.78 0.17,0.65 Q0.52,0.26 0.83,-0.39 Q0.83,-0.54 0.7,-0.48 Q0.35,-0.3 -0.03,-0.1 L-0.33,-0.7 M0.02,0.13 Q0.1,0.26 0,0.35","M-0.57,-0.64 Q-0.2,-0.25 0.07,-0.04 Q0.45,0.15 0.85,0.33 Q1.05,0.45 0.9,0.58 Q0.4,0.62 -0.07,0.57 Q-0.38,0.55 -0.39,0.25 Q-0.7,0 -1,-0.21 M-0.02,0.1 Q0.08,0.25 -0.08,0.3"]},"legend":null}}},
{"width":289,"height":40,"data":{"name":"feet"},"transform":[{"filter":"datum.side == 'R' && datum.c == 'E'"}],"mark":{"type":"point","filled":false,"stroke":"#6b6b6b","strokeWidth":1.1,"opacity":1,"size":2209},"encoding":{"x":{"field":"t","type":"quantitative","scale":{"domain":[0,1.3],"nice":false},"axis":null},"shape":{"field":"pose","type":"nominal","scale":{"domain":["D","P"],"range":["M-0.78,0 Q-0.35,0.39 -0.04,0.65 Q0.09,0.78 0.17,0.65 Q0.52,0.26 0.83,-0.39 Q0.83,-0.54 0.7,-0.48 Q0.35,-0.3 -0.03,-0.1 L-0.33,-0.7 M0.02,0.13 Q0.1,0.26 0,0.35","M-0.57,-0.64 Q-0.2,-0.25 0.07,-0.04 Q0.45,0.15 0.85,0.33 Q1.05,0.45 0.9,0.58 Q0.4,0.62 -0.07,0.57 Q-0.38,0.55 -0.39,0.25 Q-0.7,0 -1,-0.21 M-0.02,0.1 Q0.08,0.25 -0.08,0.3"]},"legend":null}}},

{"width":32,"height":64,"view":{"fill":"#d9d9d9"},"data":{"values":[]},"mark":"point"},
{"width":84,"height":64,"data":{"values":[{"m":"θ","s":"Ankle"}]},"layer":[
 {"mark":{"type":"text","angle":270,"align":"left","baseline":"middle","fontSize":19,"fontStyle":"italic","dx":-21,"dy":-39},"encoding":{"text":{"field":"m"}}},
 {"mark":{"type":"text","angle":270,"align":"left","baseline":"middle","fontSize":13,"dx":-9.4,"dy":-31},"encoding":{"text":{"field":"s"}}}]},
{"width":290,"height":64,"layer":[
 {"data":{"name":"ang"},"transform":[{"filter":"datum.s == 'RS'"}],"mark":{"type":"line","color":"#555","strokeWidth":1,"interpolate":"monotone"},"encoding":{"x":{"field":"t","type":"quantitative","scale":{"domain":[0,1.3],"nice":false},"axis":{"labels":false,"ticks":false,"title":null}},"y":{"field":"v","type":"quantitative","scale":{"domain":[73,116.05],"nice":false,"zero":false},"axis":{"values":[73,110],"labelExpr":"datum.value + '°'","title":null,"tickSize":-5,"labelPadding":12,"labelFlush":true}}}},
 {"data":{"name":"ev"},"transform":[{"filter":"datum.c == 'S'"}],"mark":{"type":"rule","color":"#555","strokeDash":[4,3],"strokeWidth":1},"encoding":{"x":{"field":"t","type":"quantitative"}}}]},
{"width":289,"height":64,"layer":[
 {"data":{"name":"ang"},"transform":[{"filter":"datum.s == 'RE'"}],"mark":{"type":"line","color":"#555","strokeWidth":1,"interpolate":"monotone"},"encoding":{"x":{"field":"t","type":"quantitative","scale":{"domain":[0,1.3],"nice":false},"axis":{"labels":false,"ticks":false,"title":null}},"y":{"field":"v","type":"quantitative","scale":{"domain":[73,116.05],"nice":false,"zero":false},"axis":{"values":[73,110],"labels":false,"title":null,"tickSize":-5}}}},
 {"data":{"name":"ev"},"transform":[{"filter":"datum.c == 'E'"}],"mark":{"type":"rule","color":"#555","strokeDash":[4,3],"strokeWidth":1},"encoding":{"x":{"field":"t","type":"quantitative"}}}]},

{"width":32,"height":18,"view":{"fill":"#d9d9d9"},"data":{"values":[]},"mark":"point"},
{"width":1,"height":1,"data":{"values":[]},"mark":"point"},
{"width":1,"height":1,"data":{"values":[]},"mark":"point"},
{"width":1,"height":1,"data":{"values":[]},"mark":"point"},

{"width":32,"height":63,"view":{"fill":"#d9d9d9"},"data":{"values":[{"label":"Right"}]},"mark":{"type":"text","angle":270,"fontSize":20,"baseline":"middle","dx":28},"encoding":{"text":{"field":"label"}}},
{"width":84,"height":63,"data":{"values":[{"m":"EMG","s":"TA"}]},"layer":[
 {"mark":{"type":"text","angle":270,"align":"left","baseline":"middle","fontSize":19,"dx":-31,"dy":-39},"encoding":{"text":{"field":"m"}}},
 {"mark":{"type":"text","angle":270,"align":"left","baseline":"middle","fontSize":13,"dx":12.3,"dy":-31},"encoding":{"text":{"field":"s"}}}]},
{"width":290,"height":63,"layer":[
 {"data":{"name":"sig"},"mark":{"type":"line","color":"#111","strokeWidth":1},"encoding":{"x":{"field":"t","type":"quantitative","scale":{"domain":[0,1.3],"nice":false},"axis":{"labels":false,"ticks":false,"title":null}},"y":{"field":"taRS","type":"quantitative","scale":{"domain":[0,14.5],"nice":false,"zero":false},"axis":{"values":[9],"labelExpr":"datum.value + ' mV'","title":null,"tickSize":-5,"labelPadding":12}}}},
 {"data":{"name":"ev"},"transform":[{"filter":"datum.c == 'S'"}],"mark":{"type":"rule","color":"#555","strokeDash":[4,3],"strokeWidth":1},"encoding":{"x":{"field":"t","type":"quantitative"}}}]},
{"width":289,"height":63,"layer":[
 {"data":{"name":"sig"},"mark":{"type":"line","color":"#111","strokeWidth":1},"encoding":{"x":{"field":"t","type":"quantitative","scale":{"domain":[0,1.3],"nice":false},"axis":{"labels":false,"ticks":false,"title":null}},"y":{"field":"taRE","type":"quantitative","scale":{"domain":[0,14.5],"nice":false,"zero":false},"axis":{"values":[9],"labels":false,"title":null,"tickSize":-5}}}},
 {"data":{"name":"ev"},"transform":[{"filter":"datum.c == 'E'"}],"mark":{"type":"rule","color":"#555","strokeDash":[4,3],"strokeWidth":1},"encoding":{"x":{"field":"t","type":"quantitative"}}}]},

{"width":32,"height":19,"view":{"fill":"#d9d9d9"},"data":{"values":[]},"mark":"point"},
{"width":1,"height":1,"data":{"values":[]},"mark":"point"},
{"width":1,"height":1,"data":{"values":[]},"mark":"point"},
{"width":1,"height":1,"data":{"values":[]},"mark":"point"},

{"width":32,"height":60,"view":{"fill":"#d9d9d9"},"data":{"values":[]},"mark":"point"},
{"width":84,"height":60,"data":{"values":[{"m":"EMG","s":"MG"}]},"layer":[
 {"mark":{"type":"text","angle":270,"align":"left","baseline":"middle","fontSize":19,"dx":-28.1,"dy":-39},"encoding":{"text":{"field":"m"}}},
 {"mark":{"type":"text","angle":270,"align":"left","baseline":"middle","fontSize":13,"dx":15.2,"dy":-31},"encoding":{"text":{"field":"s"}}}]},
{"width":290,"height":60,"layer":[
 {"data":{"name":"sig"},"mark":{"type":"line","color":"#111","strokeWidth":1},"encoding":{"x":{"field":"t","type":"quantitative","scale":{"domain":[0,1.3],"nice":false},"axis":{"labels":false,"ticks":false,"title":null}},"y":{"field":"mgRS","type":"quantitative","scale":{"domain":[0,0.652],"nice":false,"zero":false},"axis":{"values":[0.5],"labelExpr":"datum.value + ' mV'","title":null,"tickSize":-5,"labelPadding":12}}}},
 {"data":{"name":"ev"},"transform":[{"filter":"datum.c == 'S'"}],"mark":{"type":"rule","color":"#555","strokeDash":[4,3],"strokeWidth":1},"encoding":{"x":{"field":"t","type":"quantitative"}}}]},
{"width":289,"height":60,"layer":[
 {"data":{"name":"sig"},"mark":{"type":"line","color":"#111","strokeWidth":1},"encoding":{"x":{"field":"t","type":"quantitative","scale":{"domain":[0,1.3],"nice":false},"axis":{"labels":false,"ticks":false,"title":null}},"y":{"field":"mgRE","type":"quantitative","scale":{"domain":[0,0.652],"nice":false,"zero":false},"axis":{"values":[0.5],"labels":false,"title":null,"tickSize":-5}}}},
 {"data":{"name":"ev"},"transform":[{"filter":"datum.c == 'E'"}],"mark":{"type":"rule","color":"#555","strokeDash":[4,3],"strokeWidth":1},"encoding":{"x":{"field":"t","type":"quantitative"}}}]},

{"width":32,"height":13,"data":{"values":[]},"mark":"point"},
{"width":1,"height":1,"data":{"values":[]},"mark":"point"},
{"width":1,"height":1,"data":{"values":[]},"mark":"point"},
{"width":1,"height":1,"data":{"values":[]},"mark":"point"},

{"width":32,"height":38,"view":{"fill":"#d9d9d9"},"data":{"values":[]},"mark":"point"},
{"width":1,"height":1,"data":{"values":[]},"mark":"point"},
{"width":290,"height":38,"data":{"name":"feet"},"transform":[{"filter":"datum.side == 'L' && datum.c == 'S'"}],"mark":{"type":"point","filled":false,"stroke":"#6b6b6b","strokeWidth":1.1,"opacity":1,"size":2209},"encoding":{"x":{"field":"t","type":"quantitative","scale":{"domain":[0,1.3],"nice":false},"axis":null},"shape":{"field":"pose","type":"nominal","scale":{"domain":["D","P"],"range":["M-0.78,0 Q-0.35,0.39 -0.04,0.65 Q0.09,0.78 0.17,0.65 Q0.52,0.26 0.83,-0.39 Q0.83,-0.54 0.7,-0.48 Q0.35,-0.3 -0.03,-0.1 L-0.33,-0.7 M0.02,0.13 Q0.1,0.26 0,0.35","M-0.57,-0.64 Q-0.2,-0.25 0.07,-0.04 Q0.45,0.15 0.85,0.33 Q1.05,0.45 0.9,0.58 Q0.4,0.62 -0.07,0.57 Q-0.38,0.55 -0.39,0.25 Q-0.7,0 -1,-0.21 M-0.02,0.1 Q0.08,0.25 -0.08,0.3"]},"legend":null}}},
{"width":289,"height":38,"data":{"name":"feet"},"transform":[{"filter":"datum.side == 'L' && datum.c == 'E'"}],"mark":{"type":"point","filled":false,"stroke":"#6b6b6b","strokeWidth":1.1,"opacity":1,"size":2209},"encoding":{"x":{"field":"t","type":"quantitative","scale":{"domain":[0,1.3],"nice":false},"axis":null},"shape":{"field":"pose","type":"nominal","scale":{"domain":["D","P"],"range":["M-0.78,0 Q-0.35,0.39 -0.04,0.65 Q0.09,0.78 0.17,0.65 Q0.52,0.26 0.83,-0.39 Q0.83,-0.54 0.7,-0.48 Q0.35,-0.3 -0.03,-0.1 L-0.33,-0.7 M0.02,0.13 Q0.1,0.26 0,0.35","M-0.57,-0.64 Q-0.2,-0.25 0.07,-0.04 Q0.45,0.15 0.85,0.33 Q1.05,0.45 0.9,0.58 Q0.4,0.62 -0.07,0.57 Q-0.38,0.55 -0.39,0.25 Q-0.7,0 -1,-0.21 M-0.02,0.1 Q0.08,0.25 -0.08,0.3"]},"legend":null}}},

{"width":32,"height":64,"view":{"fill":"#d9d9d9"},"data":{"values":[]},"mark":"point"},
{"width":84,"height":64,"data":{"values":[{"m":"θ","s":"Ankle"}]},"layer":[
 {"mark":{"type":"text","angle":270,"align":"left","baseline":"middle","fontSize":19,"fontStyle":"italic","dx":-18,"dy":-39},"encoding":{"text":{"field":"m"}}},
 {"mark":{"type":"text","angle":270,"align":"left","baseline":"middle","fontSize":13,"dx":-6.4,"dy":-31},"encoding":{"text":{"field":"s"}}}]},
{"width":290,"height":64,"layer":[
 {"data":{"name":"ang"},"transform":[{"filter":"datum.s == 'LS'"}],"mark":{"type":"line","color":"#555","strokeWidth":1,"interpolate":"monotone"},"encoding":{"x":{"field":"t","type":"quantitative","scale":{"domain":[0,1.3],"nice":false},"axis":{"labels":false,"ticks":false,"title":null}},"y":{"field":"v","type":"quantitative","scale":{"domain":[73,116.05],"nice":false,"zero":false},"axis":{"values":[73,110],"labelExpr":"datum.value + '°'","title":null,"tickSize":-5,"labelPadding":12}}}},
 {"data":{"name":"ev"},"transform":[{"filter":"datum.c == 'S'"}],"mark":{"type":"rule","color":"#555","strokeDash":[4,3],"strokeWidth":1},"encoding":{"x":{"field":"t","type":"quantitative"}}}]},
{"width":289,"height":64,"layer":[
 {"data":{"name":"ang"},"transform":[{"filter":"datum.s == 'LE'"}],"mark":{"type":"line","color":"#555","strokeWidth":1,"interpolate":"monotone"},"encoding":{"x":{"field":"t","type":"quantitative","scale":{"domain":[0,1.3],"nice":false},"axis":{"labels":false,"ticks":false,"title":null}},"y":{"field":"v","type":"quantitative","scale":{"domain":[73,116.05],"nice":false,"zero":false},"axis":{"values":[73,110],"labels":false,"title":null,"tickSize":-5}}}},
 {"data":{"name":"ev"},"transform":[{"filter":"datum.c == 'E'"}],"mark":{"type":"rule","color":"#555","strokeDash":[4,3],"strokeWidth":1},"encoding":{"x":{"field":"t","type":"quantitative"}}}]},

{"width":32,"height":18,"view":{"fill":"#d9d9d9"},"data":{"values":[]},"mark":"point"},
{"width":1,"height":1,"data":{"values":[]},"mark":"point"},
{"width":1,"height":1,"data":{"values":[]},"mark":"point"},
{"width":1,"height":1,"data":{"values":[]},"mark":"point"},

{"width":32,"height":63,"view":{"fill":"#d9d9d9"},"data":{"values":[{"label":"Left"}]},"mark":{"type":"text","angle":270,"fontSize":20,"baseline":"middle","dx":19.5},"encoding":{"text":{"field":"label"}}},
{"width":84,"height":63,"data":{"values":[{"m":"EMG","s":"TA"}]},"layer":[
 {"mark":{"type":"text","angle":270,"align":"left","baseline":"middle","fontSize":19,"dx":-26,"dy":-39},"encoding":{"text":{"field":"m"}}},
 {"mark":{"type":"text","angle":270,"align":"left","baseline":"middle","fontSize":13,"dx":17.3,"dy":-31},"encoding":{"text":{"field":"s"}}}]},
{"width":290,"height":63,"layer":[
 {"data":{"name":"sig"},"mark":{"type":"line","color":"#111","strokeWidth":1},"encoding":{"x":{"field":"t","type":"quantitative","scale":{"domain":[0,1.3],"nice":false},"axis":{"labels":false,"ticks":false,"title":null}},"y":{"field":"taLS","type":"quantitative","scale":{"domain":[0,14.5],"nice":false,"zero":false},"axis":{"values":[9],"labelExpr":"datum.value + ' mV'","title":null,"tickSize":-5,"labelPadding":12}}}},
 {"data":{"name":"ev"},"transform":[{"filter":"datum.c == 'S'"}],"mark":{"type":"rule","color":"#555","strokeDash":[4,3],"strokeWidth":1},"encoding":{"x":{"field":"t","type":"quantitative"}}}]},
{"width":289,"height":63,"layer":[
 {"data":{"name":"sig"},"mark":{"type":"line","color":"#111","strokeWidth":1},"encoding":{"x":{"field":"t","type":"quantitative","scale":{"domain":[0,1.3],"nice":false},"axis":{"labels":false,"ticks":false,"title":null}},"y":{"field":"taLE","type":"quantitative","scale":{"domain":[0,14.5],"nice":false,"zero":false},"axis":{"values":[9],"labels":false,"title":null,"tickSize":-5}}}},
 {"data":{"name":"ev"},"transform":[{"filter":"datum.c == 'E'"}],"mark":{"type":"rule","color":"#555","strokeDash":[4,3],"strokeWidth":1},"encoding":{"x":{"field":"t","type":"quantitative"}}}]},

{"width":32,"height":19,"view":{"fill":"#d9d9d9"},"data":{"values":[]},"mark":"point"},
{"width":1,"height":1,"data":{"values":[]},"mark":"point"},
{"width":1,"height":1,"data":{"values":[]},"mark":"point"},
{"width":1,"height":1,"data":{"values":[]},"mark":"point"},

{"width":32,"height":61,"view":{"fill":"#d9d9d9"},"data":{"values":[]},"mark":"point"},
{"width":84,"height":61,"data":{"values":[{"m":"EMG","s":"MG"}]},"layer":[
 {"mark":{"type":"text","angle":270,"align":"left","baseline":"middle","fontSize":19,"dx":-29.1,"dy":-39},"encoding":{"text":{"field":"m"}}},
 {"mark":{"type":"text","angle":270,"align":"left","baseline":"middle","fontSize":13,"dx":14.2,"dy":-31},"encoding":{"text":{"field":"s"}}}]},
{"width":290,"height":61,"layer":[
 {"data":{"name":"sig"},"mark":{"type":"line","color":"#111","strokeWidth":1},"encoding":{"x":{"field":"t","type":"quantitative","scale":{"domain":[0,1.3],"nice":false},"axis":{"values":[0,0.134,1,1.135],"labelExpr":"datum.value === 0 ? '0' : (datum.value === 1 ? '1' : '')","title":null,"tickSize":-5,"labelPadding":18,"labelFlush":false}},"y":{"field":"mgLS","type":"quantitative","scale":{"domain":[0,0.652],"nice":false,"zero":false},"axis":{"values":[0.5],"labelExpr":"datum.value + ' mV'","title":null,"tickSize":-5,"labelPadding":12}}}},
 {"data":{"name":"ev"},"transform":[{"filter":"datum.c == 'S'"}],"mark":{"type":"rule","color":"#555","strokeDash":[4,3],"strokeWidth":1},"encoding":{"x":{"field":"t","type":"quantitative"}}}]},
{"width":289,"height":61,"layer":[
 {"data":{"name":"sig"},"mark":{"type":"line","color":"#111","strokeWidth":1},"encoding":{"x":{"field":"t","type":"quantitative","scale":{"domain":[0,1.3],"nice":false},"axis":{"values":[0,0.134,1,1.108],"labelExpr":"datum.value === 0 ? '0' : (datum.value === 1 ? '1' : '')","title":null,"tickSize":-5,"labelPadding":18,"labelFlush":false}},"y":{"field":"mgLE","type":"quantitative","scale":{"domain":[0,0.652],"nice":false,"zero":false},"axis":{"values":[0.5],"labels":false,"title":null,"tickSize":-5}}}},
 {"data":{"name":"ev"},"transform":[{"filter":"datum.c == 'E'"}],"mark":{"type":"rule","color":"#555","strokeDash":[4,3],"strokeWidth":1},"encoding":{"x":{"field":"t","type":"quantitative"}}}]},

{"width":32,"height":65,"data":{"values":[]},"mark":"point"},
{"width":1,"height":1,"data":{"values":[]},"mark":"point"},
{"width":290,"height":65,"data":{"values":[{"label":"Time (second)"}]},"mark":{"type":"text","fontSize":24,"baseline":"middle","dx":154,"dy":16.5},"encoding":{"text":{"field":"label"}}},
{"width":1,"height":1,"data":{"values":[]},"mark":"point"}
]
}
